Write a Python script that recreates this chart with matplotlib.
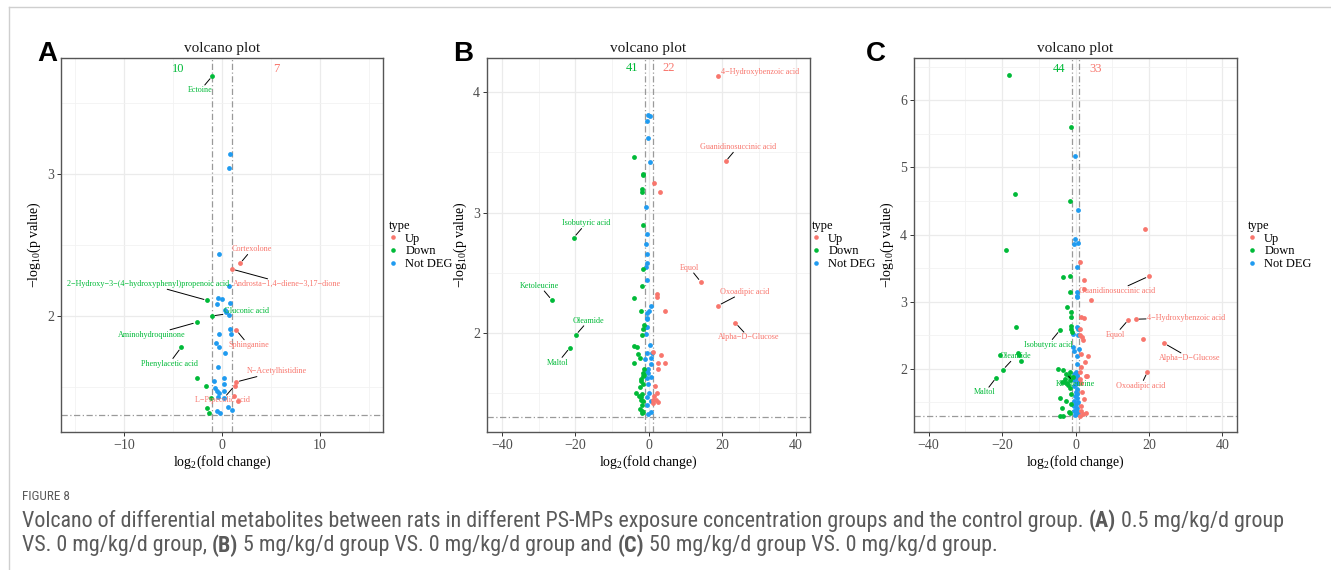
import matplotlib
matplotlib.use("Agg")
import matplotlib.pyplot as plt
from matplotlib.lines import Line2D
from matplotlib import font_manager
import numpy as np

plt.rcParams['font.family'] = ['Liberation Serif', 'DejaVu Serif']
plt.rcParams['mathtext.fontset'] = 'custom'
plt.rcParams['mathtext.rm'] = 'Liberation Serif'
plt.rcParams['mathtext.it'] = 'Liberation Serif:italic'
plt.rcParams['mathtext.default'] = 'regular'

COL = {"Up": "#F8766D", "Down": "#00BA38", "Not DEG": "#1F9BF0"}
M = "\u2212"

# ---------------- Panel A data ----------------
a_up_x = [1.84, 1.02, 1.46, 1.43, 1.30, 1.27, 1.60]
a_up_y = [2.37, 2.33, 1.90, 1.535, 1.51, 1.44, 1.40]
a_down_x = [-0.99, -1.5, -1.05, -2.59, -4.15, -2.59, -1.67, -1.12, -1.5, -1.3]
a_down_y = [3.69, 2.11, 2.0, 1.955, 1.78, 1.56, 1.51, 1.42, 1.354, 1.316]
a_ns_x = [0.82, 0.68, -0.34, 0.68, -0.45, -0.03, -0.48, 0.82, 0.26, 0.40, 0.75, 0.78,
          0.95, -0.27, -0.57, -0.31, 0.34, -0.37, 0.17, -0.82, 0.17, -0.70, -0.50, 0.20,
          -0.30, -0.40, 0.17, 0.58, 1.0, -0.50, -0.25]
a_ns_y = [3.14, 3.04, 2.44, 2.21, 2.13, 2.12, 2.085, 2.09, 2.04, 2.03, 2.01, 1.906,
          1.87, 1.87, 1.81, 1.78, 1.74, 1.64, 1.56, 1.54, 1.52, 1.49, 1.47, 1.47,
          1.46, 1.43, 1.42, 1.36, 1.34, 1.33, 1.32]
a_lab_names = ["Ectoine", "Cortexolone", f"Androsta{M}1,4{M}diene{M}3,17{M}dione",
               f"2{M}Hydroxy{M}3{M}(4{M}hydroxyphenyl)propenoic acid", "Gluconic acid",
               "Aminohydroquinone", "Phenylacetic acid", "Sphinganine",
               f"N{M}Acetylhistidine", f"L{M}Pipecolic acid"]
a_lab_type = ["Down", "Up", "Up", "Down", "Down", "Down", "Down", "Up", "Up", "Up"]
a_lab_px = [-0.99, 1.84, 1.02, -1.5, -1.05, -2.59, -4.15, 1.46, 1.43, 1.30]
a_lab_py = [3.69, 2.37, 2.33, 2.11, 2.0, 1.955, 1.78, 1.90, 1.535, 1.51]
a_lab_tx = [-2.2, 3.06, 6.6, -7.5, 2.5, -7.2, -5.4, 2.7, 5.6, 0.0]
a_lab_ty = [3.59, 2.47, 2.225, 2.225, 2.035, 1.866, 1.664, 1.796, 1.61, 1.406]
a_lab_seg = [True, True, True, True, True, True, True, True, True, True]
a_counts = ["10", "7"]

# ---------------- Panel B data ----------------
b_up_x = [18.7, 20.9, 1.28, 3.0, 14.2, 2.1, 2.3, 18.85, 4.27, 23.6, 1.2, 3.2, 4.4, 2.4,
          2.4, 1.7, 2.3, 1.1, 2.0, 1.1, 1.5, 2.6]
b_up_y = [4.14, 3.425, 3.25, 3.175, 2.42, 2.32, 2.30, 2.225, 2.18, 2.08, 1.84, 1.815,
          1.75, 1.75, 1.70, 1.555, 1.50, 1.44, 1.44, 1.41, 1.47, 1.42]
b_down_x = [-3.97, -1.6, -1.6, -2.0, -2.0, -1.5, -20.5, -1.5, -1.8, -26.4, -3.97, -2.1,
            -1.5, -1.8, -19.9, -21.5, -4.0, -3.3, -3.0, -2.4, -4.0, -1.5, -1.7, -2.1,
            -1.5, -2.2, -3.6, -2.0, -2.2, -2.2, -1.7, -2.3, -2.0, -1.5, -1.8,
            -1.3, -2.5, -1.2, -1.9, -1.4, -2.6]
b_down_y = [3.46, 3.32, 3.31, 3.195, 3.17, 2.90, 2.79, 2.53, 2.39, 2.27, 2.29, 2.18,
            2.03, 1.98, 1.98, 1.875, 1.89, 1.88, 1.825, 1.79, 1.75, 1.66, 1.64, 1.60,
            1.57, 1.61, 1.50, 1.49, 1.46, 1.44, 1.43, 1.36, 1.35, 1.34, 1.33,
            2.06, 1.55, 1.65, 1.40, 1.70, 1.47]
b_ns_x = [-0.27, 0.38, -0.45, -0.18, 0.28, -0.7, -0.6, -0.7, -0.6, -0.5, -0.7, -0.6,
          0.6, 0.0, -0.45, -0.6, -0.4, -0.9, -0.5, -0.9, -0.45, 0.9, 0.45, -1.0, 0.45,
          -0.2, -0.6, -0.2, 0.45, -0.5, -0.1, -0.5, 0.5, -0.6, 0.5, -0.2, 0.2, -0.3]
b_ns_y = [3.81, 3.80, 3.76, 3.62, 3.42, 3.045, 2.82, 2.74, 2.655, 2.58, 2.55, 2.44,
          2.225, 2.18, 2.16, 2.12, 2.11, 2.05, 2.05, 1.99, 1.83, 1.83, 1.79, 1.78, 1.74,
          1.70, 1.68, 1.66, 1.63, 1.62, 1.50, 1.46, 1.43, 1.40, 1.34, 1.32, 1.90, 1.57]
b_lab_names = [f"4{M}Hydroxybenzoic acid", "Guanidinosuccinic acid", "Isobutyric acid",
               "Equol", "Ketoleucine", "Oxoadipic acid", "Oleamide",
               f"Alpha{M}D{M}Glucose", "Maltol"]
b_lab_type = ["Up", "Up", "Down", "Up", "Down", "Up", "Down", "Up", "Down"]
b_lab_px = [18.7, 20.9, -20.5, 14.2, -26.4, 18.85, -19.9, 23.6, -21.5]
b_lab_py = [4.14, 3.425, 2.79, 2.42, 2.27, 2.225, 1.98, 2.08, 1.875]
b_lab_tx = [30.4, 24.2, -17.1, 11.06, -29.7, 26.1, -16.5, 27.2, -24.8]
b_lab_ty = [4.17, 3.545, 2.91, 2.54, 2.39, 2.34, 2.10, 1.96, 1.75]
b_lab_seg = [False, True, True, True, True, True, True, True, True]
b_counts = ["41", "22"]

# ---------------- Panel C data ----------------
c_up_x = [18.9, 1.1, 20.0, 2.4, 2.4, 4.2, 1.6, 2.4, 14.4, 16.4, 1.3, 1.7, 2.1, 18.4,
          24.2, 1.6, 3.5, 2.5, 1.6, 2.9, 3.1, 1.6, 1.9, 19.6, 1.6, 2.8, 1.1,
          1.3, 1.2, 2.2, 1.4, 2.0, 1.2]
c_up_y = [4.08, 3.59, 3.38, 3.33, 3.19, 3.03, 2.78, 2.76, 2.73, 2.74, 2.51, 2.47, 2.43,
          2.44, 2.38, 2.22, 2.19, 2.10, 2.03, 1.90, 1.89, 1.79, 1.65, 1.955, 1.37, 1.35,
          1.30, 1.95, 1.85, 1.55, 1.45, 1.33, 2.60]
c_down_x = [-18.2, -1.2, -16.6, -1.4, -18.9, -3.5, -1.6, -1.6, -2.2, -1.2, -1.1, -16.2,
            -1.3, -1.3, -1.0, -4.2, -15.7, -15.4, -20.65, -14.8, -19.8, -21.6,
            -4.9, -3.5, -2.5, -1.4, -1.9, -1.4, -3.0, -3.6, -0.8, -2.3,
            -1.3, -4.1, -2.5, -3.6, -1.8, -1.4, -4.2, -3.5, -1.3,
            -2.0, -1.5, -2.8]
c_down_y = [6.37, 5.60, 4.61, 4.50, 3.77, 3.37, 3.39, 3.15, 2.92, 2.85, 2.78, 2.62,
            2.64, 2.60, 2.55, 2.58, 2.24, 2.21, 2.20, 2.115, 1.985, 1.87,
            2.0, 1.99, 1.93, 1.95, 1.89, 1.84, 1.81, 1.80, 1.88, 1.79,
            1.62, 1.56, 1.52, 1.42, 1.36, 1.34, 1.30, 1.30, 1.47,
            1.76, 1.72, 1.85]
c_ns_x = [-0.1, 0.7, -0.2, 0.8, -0.4, 0.3, 0.5, 0.3, 0.5, 0.4, 0.7, -0.6, 0.6, -0.6,
          1.0, -0.3, 0.3, 0.5, 0.0, 0.3, -0.4, 0.5, 0.1, -0.3, 0.6, 0.2, -0.5, 0.4,
          0.0, 0.5, -0.2, 0.3, -0.4, 0.6, 0.0, -0.3, 0.4, 0.1, -0.5, 0.6, 0.2, -0.1]
c_ns_y = [5.17, 4.36, 3.93, 3.87, 3.86, 3.52, 3.14, 3.08, 3.07, 2.63, 2.60, 2.52, 2.51,
          2.33, 2.29, 2.26, 2.19, 2.07, 1.95, 1.93, 1.92, 1.90, 1.86, 1.84, 1.80, 1.77,
          1.74, 1.70, 1.66, 1.62, 1.60, 1.56, 1.52, 1.50, 1.47, 1.44, 1.42, 1.39, 1.37,
          1.35, 1.33, 1.31]
c_lab_names = ["Guanidinosuccinic acid", f"4{M}Hydroxybenzoic acid", "Equol",
               f"Alpha{M}D{M}Glucose", "Oxoadipic acid", "Isobutyric acid", "Oleamide",
               "Ketoleucine", "Maltol"]
c_lab_type = ["Up", "Up", "Up", "Up", "Up", "Down", "Down", "Down", "Down"]
c_lab_px = [20.0, 16.4, 14.4, 24.2, 19.6, -4.2, -19.8, -2.5, -21.6]
c_lab_py = [3.38, 2.74, 2.73, 2.38, 1.955, 2.58, 1.985, 1.93, 1.87]
c_lab_tx = [11.2, 30.2, 10.9, 31.2, 17.8, -7.5, -16.3, -0.1, -24.7]
c_lab_ty = [3.16, 2.76, 2.51, 2.16, 1.75, 2.36, 2.19, 1.78, 1.65]
c_lab_seg = [True, True, True, True, True, True, True, True, True]
c_counts = ["44", "33"]

FC_CUT = 1.0
P_CUT = 1.301

W, H = 1331, 570
fig = plt.figure(figsize=(W / 100, H / 100), dpi=100)


def fx(px):
    return px / W


def fy(py):
    return 1 - py / H


panels = [
    dict(letter="A", left=61, right=383, top=58, bottom=432, xlim=(-16.4, 16.4),
         ylim=(1.183, 3.817), xmaj=[-10, 0, 10], xmin=[-15, -5, 5, 15],
         ymaj=[2, 3], ymin=[1.5, 2.5, 3.5],
         up=(a_up_x, a_up_y), down=(a_down_x, a_down_y), ns=(a_ns_x, a_ns_y),
         labs=(a_lab_names, a_lab_type, a_lab_px, a_lab_py, a_lab_tx, a_lab_ty, a_lab_seg),
         counts=a_counts, cx=(-4.5, 5.5), cy=3.74, letter_x=37, leg_dx=6),
    dict(letter="B", left=487, right=810, top=58, bottom=432, xlim=(-44.1, 43.9),
         ylim=(1.172, 4.287), xmaj=[-40, -20, 0, 20, 40], xmin=[-30, -10, 10, 30],
         ymaj=[2, 3, 4], ymin=[1.5, 2.5, 3.5],
         up=(b_up_x, b_up_y), down=(b_down_x, b_down_y), ns=(b_ns_x, b_ns_y),
         labs=(b_lab_names, b_lab_type, b_lab_px, b_lab_py, b_lab_tx, b_lab_ty, b_lab_seg),
         counts=b_counts, cx=(-4.6, 5.4), cy=4.20, letter_x=453, leg_dx=2),
    dict(letter="C", left=914, right=1237, top=58, bottom=432, xlim=(-44.0, 44.0),
         ylim=(1.06, 6.63), xmaj=[-40, -20, 0, 20, 40], xmin=[-30, -10, 10, 30],
         ymaj=[2, 3, 4, 5, 6], ymin=[1.5, 2.5, 3.5, 4.5, 5.5, 6.5],
         up=(c_up_x, c_up_y), down=(c_down_x, c_down_y), ns=(c_ns_x, c_ns_y),
         labs=(c_lab_names, c_lab_type, c_lab_px, c_lab_py, c_lab_tx, c_lab_ty, c_lab_seg),
         counts=c_counts, cx=(-4.5, 5.5), cy=6.47, letter_x=866, leg_dx=11),
]

for p in panels:
    ax = fig.add_axes([fx(p["left"]), fy(p["bottom"]),
                       fx(p["right"] - p["left"]), (p["bottom"] - p["top"]) / H])
    ax.set_xlim(*p["xlim"])
    ax.set_ylim(*p["ylim"])
    ax.set_xticks(p["xmaj"])
    ax.set_xticklabels([str(v).replace("-", M) for v in p["xmaj"]])
    ax.set_yticks(p["ymaj"])
    ax.set_xticks(p["xmin"], minor=True)
    ax.set_yticks(p["ymin"], minor=True)
    ax.grid(True, which="major", color="#EBEBEB", lw=0.9, zorder=0)
    ax.grid(True, which="minor", color="#F2F2F2", lw=0.6, zorder=0)
    ax.set_axisbelow(True)
    for s in ax.spines.values():
        s.set_color("#555555")
        s.set_linewidth(1.0)
    ax.tick_params(which="major", length=3, width=0.7, color="#333333",
                   labelsize=10, labelcolor="#4D4D4D", pad=2)
    ax.tick_params(which="minor", length=0)

    ax.scatter(*p["ns"], s=12, color=COL["Not DEG"], linewidths=0, zorder=3)
    ax.scatter(*p["down"], s=12, color=COL["Down"], linewidths=0, zorder=3)
    ax.scatter(*p["up"], s=12, color=COL["Up"], linewidths=0, zorder=3)

    ls = (0, (5, 2, 1, 2))
    ax.axvline(-FC_CUT, color="#9A9A9A", lw=0.9, ls=ls, zorder=2)
    ax.axvline(FC_CUT, color="#9A9A9A", lw=0.9, ls=ls, zorder=2)
    ax.axhline(P_CUT, color="#9A9A9A", lw=0.9, ls=ls, zorder=2)

    names, types, pxs, pys, txs, tys, segs = p["labs"]
    for n, t, px_, py_, tx_, ty_, sg in zip(names, types, pxs, pys, txs, tys, segs):
        kw = {}
        if sg:
            kw["arrowprops"] = dict(arrowstyle="-", color="black", lw=0.7,
                                    shrinkA=0, shrinkB=2.5)
        ax.annotate(n, xy=(px_, py_), xytext=(tx_, ty_), ha="center", va="center",
                    fontsize=5.9, color=COL[t], zorder=4,
                    bbox=dict(boxstyle="square,pad=0.15", fc="none", ec="none"), **kw)

    ax.text(p["cx"][0], p["cy"], p["counts"][0], color=COL["Down"], fontsize=9,
            ha="center", va="center")
    ax.text(p["cx"][1], p["cy"], p["counts"][1], color=COL["Up"], fontsize=9,
            ha="center", va="center")

    ax.set_title("volcano plot", fontsize=11, pad=4, color="#1A1A1A")
    ax.set_xlabel("log$_2$(fold change)", fontsize=10, labelpad=1)
    ax.set_ylabel(f"{M}log$_{{10}}$(p value)", fontsize=10, labelpad=3)

    handles = [Line2D([], [], ls="none", marker="o", markersize=3.3,
                      markerfacecolor=COL[k], markeredgewidth=0, label=k)
               for k in ["Up", "Down", "Not DEG"]]
    leg = ax.legend(handles=handles, title="type", loc="upper left",
                    bbox_to_anchor=(fx(p["right"] + p["leg_dx"]), fy(220)),
                    bbox_transform=fig.transFigure, frameon=False, fontsize=9,
                    title_fontsize=9, handlelength=0.6, handletextpad=0.7,
                    labelspacing=0.05, borderpad=0, borderaxespad=0)
    leg._legend_box.align = "left"

    fig.text(fx(p["letter_x"]), fy(61), p["letter"], fontsize=20, fontweight="bold",
             family=["Liberation Sans", "DejaVu Sans"], ha="left", va="baseline")

# frame lines
fig.add_artist(Line2D([fx(9), 1], [fy(7), fy(7)], color="#CFCFCF", lw=1.0))
fig.add_artist(Line2D([fx(9), fx(9)], [fy(7), 0], color="#CFCFCF", lw=1.0))

# caption font: prefer an installed condensed family that has a regular-ish weight
cap_first, w_norm, w_bold = "Lato", "normal", "bold"
for cand in ["Open Sans Condensed", "Liberation Sans Narrow", "Roboto Condensed"]:
    ws = [f.weight for f in font_manager.fontManager.ttflist if f.name == cand]
    ws = [w if isinstance(w, int) else font_manager.weight_dict.get(w, 400) for w in ws]
    if ws and min(ws) < 600:
        cap_first = cand
        w_norm = min(ws, key=lambda w: abs(w - 400))
        w_bold = max(ws)
        break
cap_family = [cap_first, "DejaVu Sans"]
cap_color = "#5A5A5A"
fig.text(fx(22), fy(497), "FIGURE 8", fontsize=9.5, color=cap_color, family=cap_family,
         fontweight=w_norm, ha="left", va="center")

line1 = [("Volcano of differential metabolites between rats in different PS-MPs exposure "
          "concentration groups and the control group. ", "n"),
         ("(A)", "b"), (" 0.5 mg/kg/d group", "n")]
line2 = [("VS. 0 mg/kg/d group, ", "n"), ("(B)", "b"),
         (" 5 mg/kg/d group VS. 0 mg/kg/d group and ", "n"), ("(C)", "b"),
         (" 50 mg/kg/d group VS. 0 mg/kg/d group.", "n")]

renderer = fig.canvas.get_renderer()


def draw_line(pieces, x0, ypix, size):
    x = x0
    for s, w in pieces:
        t = fig.text(fx(x), fy(ypix), s, fontsize=size,
                     fontweight=(w_bold if w == "b" else w_norm), color=cap_color,
                     family=cap_family, ha="left", va="center")
        bb = t.get_window_extent(renderer=renderer)
        x += bb.width
    return x


probe = fig.text(0, 0, "".join(s for s, _ in line1), fontsize=12, fontweight=w_norm,
                 family=cap_family)
wid = probe.get_window_extent(renderer=renderer).width
probe.remove()
cap_size = min(12 * (1261 / wid), 17.0)
draw_line(line1, 22, 521, cap_size)
draw_line(line2, 22, 546, cap_size)

fig.savefig("out.png", dpi=100)
